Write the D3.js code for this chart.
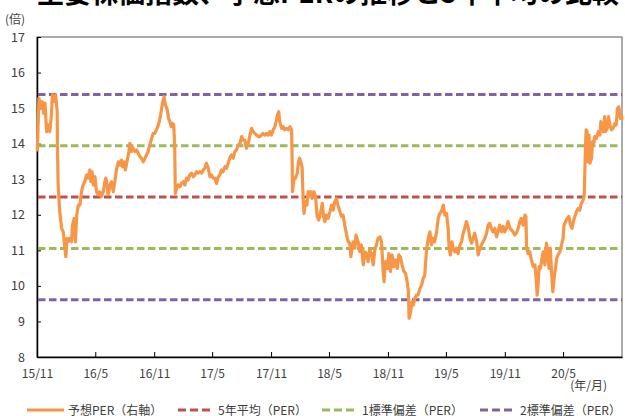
<!DOCTYPE html>
<html>
<head>
<meta charset="utf-8">
<script src="https://cdnjs.cloudflare.com/ajax/libs/d3/7.8.5/d3.min.js"></script>
<style>
  body { margin: 0; background: #fff; }
  text { font-family: "Noto Sans CJK JP", "Noto Sans", sans-serif; fill: #404040; }
</style>
</head>
<body>
<div id="chart"></div>
<script>

// 予想PER（日付, 倍）
var perData = [
  ["2015-11-02",13.78],["2015-11-07",15.28],["2015-11-13",14.99],["2015-11-17",15.18],["2015-11-22",14.85],
  ["2015-11-26",15.14],["2015-12-01",14.34],["2015-12-06",14.53],["2015-12-11",14.34],["2015-12-16",14.81],
  ["2015-12-19",15.37],["2015-12-24",15.18],["2015-12-29",15.37],["2016-01-03",14.90],["2016-01-04",13.87],
  ["2016-01-06",12.84],["2016-01-11",12.09],["2016-01-17",11.62],["2016-01-22",11.52],["2016-01-25",11.24],
  ["2016-01-30",10.82],["2016-02-03",11.34],["2016-02-06",11.24],["2016-02-12",11.34],["2016-02-17",11.24],
  ["2016-02-20",11.71],["2016-02-25",11.90],["2016-02-29",11.24],["2016-03-04",11.99],["2016-03-09",12.27],
  ["2016-03-14",12.27],["2016-03-19",12.65],["2016-03-24",12.84],["2016-03-29",12.93],["2016-04-04",13.12],
  ["2016-04-09",13.03],["2016-04-14",13.26],["2016-04-17",12.93],["2016-04-21",13.21],["2016-04-25",12.84],
  ["2016-04-30",13.07],["2016-05-05",12.65],["2016-05-10",12.56],["2016-05-15",12.65],["2016-05-20",12.51],
  ["2016-05-26",12.65],["2016-05-31",12.93],["2016-06-03",13.03],["2016-06-07",12.84],["2016-06-10",12.56],
  ["2016-06-16",12.84],["2016-06-21",12.93],["2016-06-26",12.65],["2016-07-01",12.93],["2016-07-06",13.26],
  ["2016-07-12",13.49],["2016-07-17",13.40],["2016-07-22",13.54],["2016-07-25",13.35],["2016-07-30",13.49],
  ["2016-08-03",13.26],["2016-08-09",13.54],["2016-08-14",13.78],["2016-08-17",14.01],["2016-08-22",13.78],
  ["2016-08-27",13.87],["2016-09-02",13.78],["2016-09-07",13.82],["2016-09-12",13.73],["2016-09-17",13.64],
  ["2016-09-22",13.59],["2016-09-28",13.49],["2016-10-03",13.59],["2016-10-08",13.68],["2016-10-13",13.78],
  ["2016-10-18",13.96],["2016-10-24",14.15],["2016-10-29",14.29],["2016-11-03",14.29],["2016-11-10",14.43],
  ["2016-11-17",14.62],["2016-11-21",14.81],["2016-11-25",15.04],["2016-11-29",15.23],["2016-12-02",15.32],
  ["2016-12-06",15.09],["2016-12-12",14.95],["2016-12-16",14.71],["2016-12-20",14.62],["2016-12-24",14.48],
  ["2016-12-28",14.57],["2017-01-01",14.53],["2017-01-04",13.96],["2017-01-06",12.60],["2017-01-10",12.74],
  ["2017-01-15",12.84],["2017-01-20",12.79],["2017-01-25",12.88],["2017-01-31",12.93],["2017-02-05",12.84],
  ["2017-02-10",13.03],["2017-02-15",12.98],["2017-02-20",13.12],["2017-02-26",13.17],["2017-03-03",13.07],
  ["2017-03-08",13.12],["2017-03-13",13.21],["2017-03-18",13.17],["2017-03-24",13.21],["2017-03-29",13.17],
  ["2017-04-03",13.26],["2017-04-08",13.31],["2017-04-13",13.45],["2017-04-19",13.31],["2017-04-24",13.07],
  ["2017-04-29",13.12],["2017-05-04",13.03],["2017-05-09",13.03],["2017-05-15",12.88],["2017-05-20",13.07],
  ["2017-05-25",13.12],["2017-05-30",13.26],["2017-06-04",13.21],["2017-06-10",13.35],["2017-06-15",13.31],
  ["2017-06-20",13.45],["2017-06-25",13.59],["2017-06-30",13.68],["2017-07-06",13.59],["2017-07-11",13.78],
  ["2017-07-16",13.82],["2017-07-21",13.96],["2017-07-27",14.01],["2017-08-01",14.20],["2017-08-06",14.10],
  ["2017-08-11",14.10],["2017-08-16",13.87],["2017-08-22",14.01],["2017-08-27",14.24],["2017-09-01",14.43],
  ["2017-09-06",14.34],["2017-09-11",14.29],["2017-09-17",14.24],["2017-09-22",14.20],["2017-09-27",14.20],
  ["2017-10-02",14.24],["2017-10-07",14.29],["2017-10-13",14.24],["2017-10-18",14.29],["2017-10-23",14.24],
  ["2017-10-28",14.34],["2017-11-02",14.24],["2017-11-08",14.39],["2017-11-13",14.48],["2017-11-18",14.67],
  ["2017-11-21",14.81],["2017-11-25",14.90],["2017-11-28",14.62],["2017-12-04",14.43],["2017-12-09",14.48],
  ["2017-12-14",14.39],["2017-12-19",14.43],["2017-12-25",14.39],["2017-12-30",14.48],["2018-01-04",14.39],
  ["2018-01-06",13.49],["2018-01-07",12.65],["2018-01-11",12.98],["2018-01-16",13.03],["2018-01-22",13.17],
  ["2018-01-25",13.45],["2018-01-29",13.59],["2018-02-02",13.49],["2018-02-06",13.35],["2018-02-09",12.46],
  ["2018-02-12",12.04],["2018-02-17",12.37],["2018-02-21",12.27],["2018-02-25",12.65],["2018-03-02",12.56],
  ["2018-03-05",12.65],["2018-03-09",12.46],["2018-03-15",12.65],["2018-03-20",12.51],["2018-03-25",11.95],
  ["2018-03-30",11.85],["2018-04-04",12.04],["2018-04-10",12.32],["2018-04-14",11.95],["2018-04-18",11.81],
  ["2018-04-23",11.99],["2018-04-28",11.90],["2018-05-04",12.09],["2018-05-09",12.27],["2018-05-14",12.13],
  ["2018-05-19",12.37],["2018-05-24",12.46],["2018-05-30",12.23],["2018-06-04",12.09],["2018-06-09",11.95],
  ["2018-06-14",11.99],["2018-06-19",11.71],["2018-06-25",11.43],["2018-06-30",11.24],["2018-07-05",11.20],
  ["2018-07-08",10.82],["2018-07-12",11.06],["2018-07-16",11.24],["2018-07-21",11.06],["2018-07-24",11.43],
  ["2018-07-27",11.34],["2018-07-31",11.24],["2018-08-05",10.96],["2018-08-10",11.15],["2018-08-16",10.59],
  ["2018-08-21",10.96],["2018-08-26",10.91],["2018-08-31",10.68],["2018-09-05",11.01],["2018-09-11",10.91],
  ["2018-09-16",10.59],["2018-09-21",11.01],["2018-09-26",11.15],["2018-10-01",11.34],["2018-10-07",11.38],
  ["2018-10-12",11.24],["2018-10-17",10.40],["2018-10-20",10.12],["2018-10-24",10.68],["2018-10-30",10.49],
  ["2018-11-04",10.91],["2018-11-09",10.40],["2018-11-14",10.87],["2018-11-19",10.54],["2018-11-25",10.73],
  ["2018-11-30",10.49],["2018-12-05",10.87],["2018-12-10",10.82],["2018-12-15",10.59],["2018-12-21",10.40],
  ["2018-12-26",10.35],["2018-12-31",10.12],["2019-01-04",9.84],["2019-01-06",9.09],["2019-01-11",9.27],
  ["2019-01-15",9.55],["2019-01-19",9.46],["2019-01-24",9.65],["2019-01-29",9.74],["2019-02-03",9.74],
  ["2019-02-09",9.93],["2019-02-14",10.02],["2019-02-19",10.21],["2019-02-24",10.30],["2019-03-01",10.96],
  ["2019-03-07",11.34],["2019-03-12",11.52],["2019-03-17",11.15],["2019-03-22",11.34],["2019-03-27",11.24],
  ["2019-04-02",11.52],["2019-04-07",11.90],["2019-04-12",12.04],["2019-04-17",12.09],["2019-04-23",12.27],
  ["2019-04-28",11.99],["2019-05-03",12.04],["2019-05-08",11.62],["2019-05-11",11.06],["2019-05-15",10.87],
  ["2019-05-20",11.24],["2019-05-24",11.06],["2019-05-29",10.96],["2019-06-03",11.06],["2019-06-08",10.91],
  ["2019-06-14",11.15],["2019-06-19",11.24],["2019-06-24",11.48],["2019-06-29",11.62],["2019-07-04",11.81],
  ["2019-07-10",11.62],["2019-07-15",11.34],["2019-07-20",11.20],["2019-07-25",11.34],["2019-07-30",11.48],
  ["2019-08-05",11.24],["2019-08-10",10.87],["2019-08-15",11.06],["2019-08-20",11.15],["2019-08-25",11.24],
  ["2019-08-31",11.34],["2019-09-05",11.48],["2019-09-10",11.71],["2019-09-15",11.76],["2019-09-20",11.62],
  ["2019-09-25",11.52],["2019-10-01",11.62],["2019-10-06",11.38],["2019-10-11",11.52],["2019-10-16",11.71],
  ["2019-10-22",11.52],["2019-10-27",11.67],["2019-11-01",11.52],["2019-11-06",11.62],["2019-11-11",11.81],
  ["2019-11-17",11.62],["2019-11-22",11.57],["2019-11-27",11.52],["2019-12-02",11.43],["2019-12-07",11.48],
  ["2019-12-13",11.62],["2019-12-18",11.81],["2019-12-23",11.90],["2019-12-28",11.71],["2020-01-03",11.99],
  ["2020-01-06",11.95],["2020-01-08",11.06],["2020-01-13",10.91],["2020-01-18",10.96],["2020-01-23",10.73],
  ["2020-01-29",10.54],["2020-02-03",10.59],["2020-02-07",10.21],["2020-02-10",9.74],["2020-02-13",10.02],
  ["2020-02-16",10.54],["2020-02-20",10.49],["2020-02-25",10.77],["2020-02-29",10.96],["2020-03-05",10.59],
  ["2020-03-10",11.20],["2020-03-13",10.96],["2020-03-18",10.49],["2020-03-22",11.06],["2020-03-26",10.40],
  ["2020-03-30",9.84],["2020-04-03",10.21],["2020-04-07",10.49],["2020-04-11",10.77],["2020-04-15",10.87],
  ["2020-04-21",10.96],["2020-04-26",11.15],["2020-05-01",11.34],["2020-05-04",11.71],["2020-05-09",11.81],
  ["2020-05-14",11.90],["2020-05-19",11.95],["2020-05-24",11.71],["2020-05-29",11.62],["2020-06-03",11.85],
  ["2020-06-07",11.95],["2020-06-12",12.09],["2020-06-17",12.18],["2020-06-22",12.13],["2020-06-27",12.32],
  ["2020-07-03",12.42],["2020-07-06",12.56],["2020-07-08",13.21],["2020-07-10",13.96],["2020-07-12",14.39],
  ["2020-07-15",14.34],["2020-07-18",13.49],["2020-07-21",14.24],["2020-07-24",13.45],["2020-07-29",13.59],
  ["2020-08-01",14.06],["2020-08-05",14.01],["2020-08-08",14.20],["2020-08-13",14.15],["2020-08-19",14.34],
  ["2020-08-24",14.24],["2020-08-27",14.62],["2020-08-31",14.39],["2020-09-04",14.34],["2020-09-08",14.76],
  ["2020-09-11",14.34],["2020-09-16",14.43],["2020-09-20",14.76],["2020-09-24",14.53],["2020-09-29",14.39],
  ["2020-10-04",14.43],["2020-10-10",14.57],["2020-10-14",14.53],["2020-10-18",14.99],["2020-10-22",15.04],
  ["2020-10-27",14.71],["2020-10-30",14.81],["2020-11-01",14.67]
];

// 5年平均と標準偏差のライン
var avg5 = 12.5;
var sd1 = [11.05, 13.94];
var sd2 = [9.61, 15.38];

var tickLabels = ["15/11","16/5","16/11","17/5","17/11","18/5","18/11","19/5","19/11","20/5"];
var yTicks = [8,9,10,11,12,13,14,15,16,17];

var legendNames = ["予想PER（右軸）","5年平均（PER）","1標準偏差（PER）","2標準偏差（PER）"];

var orangeC = "#f79646";
var redC = "#c0504d";
var greenC = "#9bbb59";
var purpleC = "#8064a2";

var w = 625, h = 416;
var mLeft = 37, mRight = 622, mTop = 37, mBottom = 357;

var parseDay = d3.timeParse("%Y-%m-%d");
var parseTick = d3.timeParse("%y/%m");

var svg = d3.select("#chart")
  .append("svg")
  .attr("width", w)
  .attr("height", h);

var x = d3.scaleTime()
  .domain([new Date(2015, 10, 1), new Date(2020, 10, 1)])
  .range([mLeft, mRight]);

var y = d3.scaleLinear()
  .domain([8, 17])
  .range([mBottom, mTop]);

// title (cut off at the top of the picture)
svg.append("text")
  .attr("x", 328)
  .attr("y", 3)
  .attr("text-anchor", "middle")
  .style("font-size", "27px")
  .style("font-weight", "bold")
  .style("fill", "#000")
  .text("主要株価指数、予想PERの推移と5年平均の比較");

// plot frame
svg.append("rect")
  .attr("x", mLeft)
  .attr("y", mTop)
  .attr("width", mRight - mLeft)
  .attr("height", mBottom - mTop)
  .style("fill", "none")
  .style("stroke", "#595959")
  .style("stroke-width", 1);

// y axis
var yAxis = d3.axisLeft(y)
  .tickValues(yTicks)
  .tickSizeInner(-4)
  .tickSizeOuter(0)
  .tickPadding(12);

var gy = svg.append("g")
  .attr("transform", "translate(" + mLeft + ",0)")
  .call(yAxis);
gy.select(".domain").style("stroke", "#000").style("stroke-width", 1.5);
gy.selectAll(".tick line").style("stroke", "#000");
gy.selectAll(".tick text")
  .style("font-size", "12.5px")
  .style("fill", "#404040")
  .style("font-family", "'Noto Sans CJK JP', sans-serif");

// x axis
var xAxis = d3.axisBottom(x)
  .tickValues(tickLabels.map(function(t) { return parseTick(t); }))
  .tickFormat(function(d, i) { return tickLabels[i]; })
  .tickSizeInner(-5)
  .tickSizeOuter(0)
  .tickPadding(12);

var gx = svg.append("g")
  .attr("transform", "translate(0," + mBottom + ")")
  .call(xAxis);
gx.select(".domain").style("stroke", "#000").style("stroke-width", 1.5);
gx.selectAll(".tick line").style("stroke", "#000");
gx.selectAll(".tick text")
  .style("font-size", "12px")
  .style("fill", "#404040")
  .style("font-family", "'Noto Sans CJK JP', sans-serif");

svg.append("text")
  .attr("x", 607)
  .attr("y", 390)
  .attr("text-anchor", "end")
  .style("font-size", "12px")
  .text("(年/月)");

svg.append("text")
  .attr("x", 5)
  .attr("y", 24)
  .style("font-size", "12px")
  .text("(倍)");

// reference lines
var refLines = [
  {v: avg5, c: redC},
  {v: sd1[0], c: greenC},
  {v: sd1[1], c: greenC},
  {v: sd2[0], c: purpleC},
  {v: sd2[1], c: purpleC}
];

svg.selectAll(".ref")
  .data(refLines)
  .enter()
  .append("line")
  .attr("class", "ref")
  .attr("x1", mLeft + 1)
  .attr("x2", mRight)
  .attr("y1", function(d) { return y(d.v); })
  .attr("y2", function(d) { return y(d.v); })
  .style("stroke", function(d) { return d.c; })
  .style("stroke-width", 3)
  .style("stroke-dasharray", "7.5,3.5");

// PER line
var line = d3.line()
  .x(function(d) { return x(parseDay(d[0])); })
  .y(function(d) { return y(d[1]); });

svg.append("path")
  .datum(perData)
  .attr("d", line)
  .style("fill", "none")
  .style("stroke", orangeC)
  .style("stroke-width", 3.2)
  .style("stroke-linejoin", "round");

// legend
var legendX = [27, 178, 322, 480];
var legendC = [orangeC, redC, greenC, purpleC];
var ly = 410;

var lg = svg.selectAll(".legend")
  .data(legendNames)
  .enter()
  .append("g")
  .attr("class", "legend")
  .attr("transform", function(d, i) { return "translate(" + legendX[i] + "," + ly + ")"; });

lg.append("line")
  .attr("x1", 0)
  .attr("x2", function(d, i) { return i ? 33 : 37; })
  .attr("y1", 0)
  .attr("y2", 0)
  .style("stroke", function(d, i) { return legendC[i]; })
  .style("stroke-width", 3)
  .style("stroke-dasharray", function(d, i) { return i ? "8,4" : null; });

lg.append("text")
  .attr("x", function(d, i) { return i ? 40 : 41; })
  .attr("y", 4.5)
  .style("font-size", "12px")
  .text(function(d) { return d; });

</script>
</body>
</html>
